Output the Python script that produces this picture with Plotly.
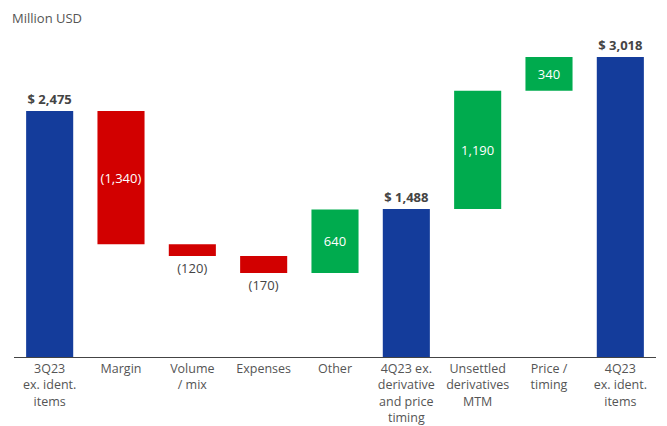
import plotly.graph_objects as go

categories = ["3Q23<br>ex. ident.<br>items", "Margin", "Volume<br>/ mix", "Expenses", "Other",
              "4Q23 ex.<br>derivative<br>and price<br>timing", "Unsettled<br>derivatives<br>MTM",
              "Price /<br>timing", "4Q23<br>ex. ident.<br>items"]
values = [2475, -1340, -120, -170, 640, 1488, 1190, 340, 3018]
measures = ["absolute", "relative", "relative", "relative", "relative",
            "absolute", "relative", "relative", "absolute"]
labels = ["<b>$ 2,475</b>", "(1,340)", "(120)", "(170)", "640",
          "<b>$ 1,488</b>", "1,190", "340", "<b>$ 3,018</b>"]
positions = ["outside", "inside", "outside", "outside", "inside",
             "outside", "inside", "inside", "outside"]

BLUE = "#143C9B"
RED = "#D20000"
GREEN = "#00AB4E"
FONT = "Open Sans"

fig = go.Figure(go.Waterfall(
    x=categories, y=values, measure=measures,
    text=labels, textposition=positions, textangle=0,
    insidetextanchor="middle",
    constraintext="none", cliponaxis=False,
    insidetextfont=dict(color="white", size=13, family=FONT),
    outsidetextfont=dict(color="#444444", size=13, family=FONT),
    increasing=dict(marker=dict(color=GREEN)),
    decreasing=dict(marker=dict(color=RED)),
    totals=dict(marker=dict(color=BLUE)),
    connector=dict(visible=False),
    hoverinfo="skip",
))

fig.update_layout(
    width=667, height=426,
    margin=dict(l=14, r=11, t=30, b=69),
    paper_bgcolor="white", plot_bgcolor="rgba(0,0,0,0)",
    showlegend=False, waterfallgap=0.34,
    font=dict(family=FONT, color="#555555", size=13),
    xaxis=dict(showline=True, linecolor="#444444", linewidth=1, ticks="",
               automargin=False, ticklabelstandoff=0,
               tickfont=dict(size=12.5, color="#555555", family=FONT), showgrid=False),
    yaxis=dict(visible=False, range=[0, 3290]),
)
fig.add_annotation(text="Million USD", xref="paper", yref="paper",
                   x=-0.006, y=1.0, xanchor="left", yanchor="bottom", yshift=1,
                   showarrow=False, font=dict(size=13, color="#555555", family=FONT))
fig.write_html("out.html", config={"displayModeBar": False},
               post_script="document.body.style.margin='0';document.body.style.overflow='hidden';")
